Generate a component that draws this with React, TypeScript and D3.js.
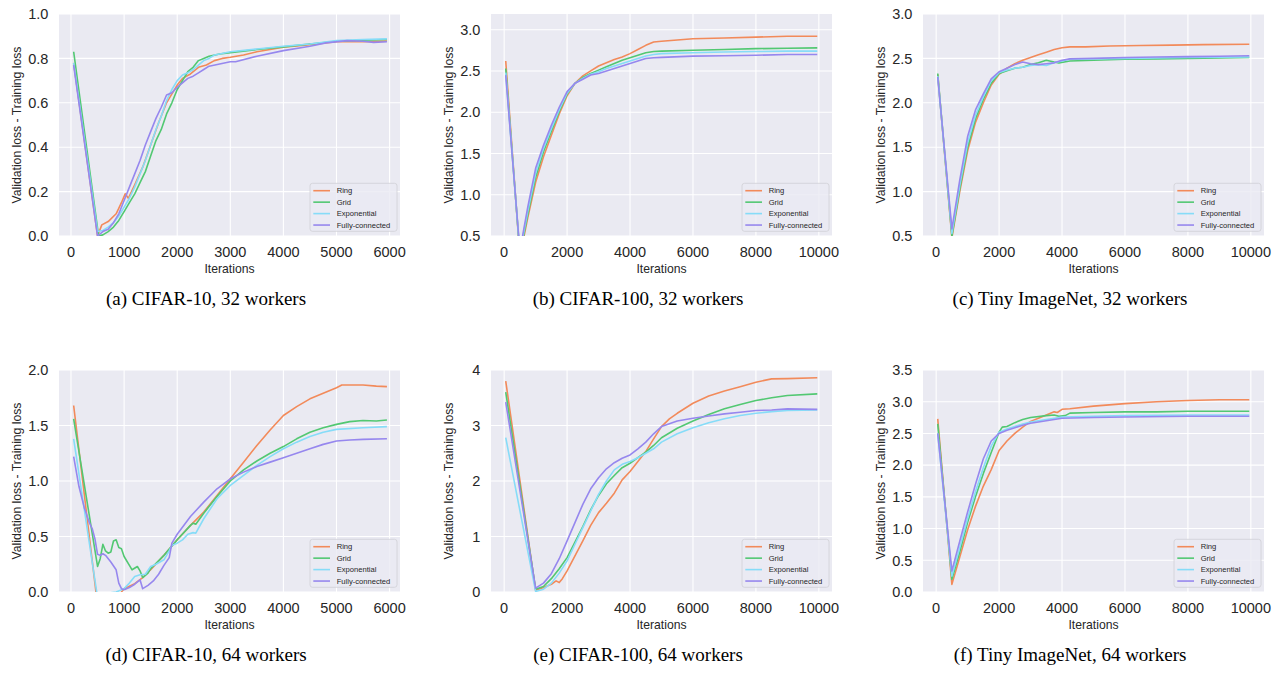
import React from "react"
import * as d3 from "d3"

type Pt = [number, number]

const SERIES = ["Ring", "Grid", "Exponential", "Fully-connected"]
const COLORS = ["#f28a5a", "#52c872", "#86dcf8", "#9687ee"]

const TICKS_6K = [0, 1000, 2000, 3000, 4000, 5000, 6000]
const TICKS_10K = [0, 2000, 4000, 6000, 8000, 10000]

// (a) CIFAR-10, 32 workers
const aRing: Pt[] = [[50, 0.78], [500, 0.0], [580, 0.05], [700, 0.065], [850, 0.1], [950, 0.15], [1020, 0.19], [1080, 0.17], [1200, 0.23], [1350, 0.31], [1500, 0.41], [1650, 0.51], [1800, 0.6], [1900, 0.64], [2000, 0.68], [2100, 0.71], [2250, 0.73], [2400, 0.76], [2550, 0.77], [2700, 0.79], [2850, 0.8], [3000, 0.805], [3250, 0.815], [3500, 0.83], [3750, 0.84], [4000, 0.85], [4500, 0.862], [5000, 0.875], [5500, 0.875], [5950, 0.878]]
const aGrid: Pt[] = [[50, 0.83], [520, 0.0], [600, 0.005], [700, 0.02], [800, 0.04], [900, 0.07], [1000, 0.11], [1100, 0.15], [1200, 0.19], [1300, 0.24], [1400, 0.29], [1500, 0.36], [1600, 0.43], [1700, 0.48], [1800, 0.55], [1900, 0.6], [2000, 0.66], [2100, 0.7], [2200, 0.74], [2300, 0.76], [2400, 0.79], [2500, 0.8], [2600, 0.81], [2800, 0.82], [3000, 0.826], [3500, 0.84], [4000, 0.852], [4500, 0.865], [5000, 0.877], [5500, 0.882], [5950, 0.885]]
const aExp: Pt[] = [[50, 0.78], [500, 0.02], [600, 0.025], [700, 0.04], [800, 0.06], [900, 0.09], [1000, 0.13], [1100, 0.17], [1200, 0.22], [1300, 0.28], [1400, 0.34], [1500, 0.41], [1600, 0.48], [1700, 0.54], [1800, 0.61], [1900, 0.66], [2000, 0.7], [2100, 0.725], [2200, 0.735], [2300, 0.75], [2400, 0.77], [2500, 0.79], [2600, 0.8], [2700, 0.815], [2800, 0.82], [3000, 0.83], [3500, 0.842], [4000, 0.855], [4500, 0.865], [5000, 0.88], [5500, 0.885], [5950, 0.888]]
const aFc: Pt[] = [[50, 0.77], [500, 0.0], [600, 0.02], [700, 0.03], [800, 0.06], [900, 0.1], [1000, 0.16], [1100, 0.22], [1200, 0.28], [1300, 0.34], [1400, 0.41], [1500, 0.47], [1600, 0.53], [1700, 0.58], [1800, 0.635], [1900, 0.645], [2000, 0.67], [2100, 0.69], [2200, 0.71], [2300, 0.72], [2400, 0.735], [2500, 0.75], [2600, 0.765], [2800, 0.775], [3000, 0.785], [3100, 0.785], [3500, 0.81], [4000, 0.835], [4500, 0.855], [4800, 0.87], [5200, 0.88], [5500, 0.877], [5700, 0.872], [5950, 0.875]]

// (b) CIFAR-100, 32 workers
const bRing: Pt[] = [[50, 2.62], [500, 0.25], [750, 0.72], [1000, 1.15], [1250, 1.46], [1500, 1.72], [1750, 1.98], [2000, 2.2], [2250, 2.35], [2500, 2.44], [2750, 2.5], [3000, 2.56], [3250, 2.6], [3500, 2.64], [3750, 2.67], [4000, 2.71], [4250, 2.76], [4500, 2.81], [4750, 2.85], [5000, 2.86], [5500, 2.875], [6000, 2.89], [7000, 2.9], [8000, 2.91], [9000, 2.92], [9950, 2.92]]
const bGrid: Pt[] = [[50, 2.53], [500, 0.28], [750, 0.76], [1000, 1.21], [1250, 1.52], [1500, 1.77], [1750, 2.01], [2000, 2.22], [2250, 2.35], [2500, 2.42], [2750, 2.47], [3000, 2.51], [3250, 2.55], [3500, 2.59], [3750, 2.63], [4000, 2.66], [4250, 2.69], [4500, 2.72], [4750, 2.735], [5000, 2.74], [6000, 2.75], [7000, 2.76], [8000, 2.77], [9000, 2.775], [9950, 2.78]]
const bExp: Pt[] = [[50, 2.48], [500, 0.3], [750, 0.8], [1000, 1.26], [1250, 1.56], [1500, 1.8], [1750, 2.03], [2000, 2.23], [2250, 2.35], [2500, 2.41], [2750, 2.46], [3000, 2.49], [3250, 2.53], [3500, 2.56], [3750, 2.59], [4000, 2.62], [4250, 2.65], [4500, 2.68], [4750, 2.7], [5000, 2.71], [6000, 2.72], [7000, 2.73], [8000, 2.735], [9000, 2.74], [9950, 2.74]]
const bFc: Pt[] = [[50, 2.45], [500, 0.32], [750, 0.85], [1000, 1.32], [1250, 1.6], [1500, 1.84], [1750, 2.06], [2000, 2.25], [2250, 2.35], [2500, 2.4], [2750, 2.45], [3000, 2.47], [3250, 2.5], [3500, 2.53], [3750, 2.56], [4000, 2.59], [4250, 2.62], [4500, 2.65], [4750, 2.66], [5000, 2.665], [6000, 2.68], [7000, 2.685], [8000, 2.69], [9000, 2.7], [9950, 2.7]]

// (c) Tiny ImageNet, 32 workers
const cRing: Pt[] = [[50, 2.32], [500, 0.48], [750, 1.0], [1000, 1.46], [1250, 1.78], [1500, 2.0], [1750, 2.2], [2000, 2.32], [2250, 2.39], [2500, 2.44], [2750, 2.48], [3000, 2.51], [3250, 2.54], [3500, 2.57], [3750, 2.6], [4000, 2.62], [4250, 2.63], [4750, 2.63], [5500, 2.64], [6500, 2.645], [7500, 2.65], [8500, 2.655], [9950, 2.66]]
const cGrid: Pt[] = [[50, 2.33], [500, 0.5], [750, 1.03], [1000, 1.5], [1250, 1.82], [1500, 2.04], [1750, 2.22], [2000, 2.33], [2250, 2.36], [2500, 2.39], [2750, 2.4], [3000, 2.43], [3250, 2.45], [3500, 2.48], [3750, 2.46], [3900, 2.45], [4250, 2.47], [5000, 2.48], [6000, 2.49], [7000, 2.495], [8000, 2.5], [9000, 2.505], [9950, 2.51]]
const cExp: Pt[] = [[50, 2.3], [500, 0.53], [750, 1.07], [1000, 1.55], [1250, 1.86], [1500, 2.07], [1750, 2.25], [2000, 2.34], [2250, 2.37], [2500, 2.39], [2750, 2.4], [3000, 2.42], [3250, 2.43], [3500, 2.42], [3750, 2.45], [4000, 2.47], [4250, 2.49], [5000, 2.495], [6000, 2.5], [7000, 2.505], [8000, 2.51], [9950, 2.515]]
const cFc: Pt[] = [[50, 2.29], [500, 0.58], [750, 1.13], [1000, 1.62], [1250, 1.92], [1500, 2.1], [1750, 2.27], [2000, 2.35], [2250, 2.39], [2500, 2.43], [2750, 2.46], [3000, 2.44], [3250, 2.43], [3500, 2.44], [3750, 2.45], [4000, 2.48], [4250, 2.495], [5000, 2.5], [6000, 2.51], [7000, 2.515], [8000, 2.52], [9000, 2.525], [9950, 2.53]]

// (d) CIFAR-10, 64 workers
const dRing: Pt[] = [[50, 1.68], [500, -0.12], [750, -0.1], [950, 0.0], [1000, 0.03], [1200, 0.075], [1350, 0.13], [1500, 0.2], [1750, 0.33], [2000, 0.47], [2250, 0.6], [2500, 0.72], [2750, 0.87], [3000, 1.02], [3250, 1.17], [3500, 1.32], [3750, 1.46], [4000, 1.59], [4250, 1.67], [4500, 1.74], [4750, 1.79], [5000, 1.84], [5100, 1.865], [5500, 1.865], [5750, 1.855], [5950, 1.85]]
const dGrid: Pt[] = [[50, 1.56], [500, 0.23], [550, 0.3], [600, 0.43], [650, 0.37], [700, 0.35], [750, 0.36], [800, 0.46], [850, 0.47], [900, 0.4], [950, 0.39], [1000, 0.32], [1100, 0.24], [1150, 0.2], [1250, 0.23], [1300, 0.19], [1350, 0.13], [1450, 0.17], [1500, 0.21], [1750, 0.33], [2000, 0.47], [2250, 0.6], [2300, 0.62], [2350, 0.61], [2500, 0.71], [2750, 0.86], [3000, 1.0], [3250, 1.1], [3500, 1.18], [3750, 1.25], [4000, 1.31], [4250, 1.38], [4500, 1.44], [4750, 1.48], [5000, 1.51], [5250, 1.535], [5500, 1.545], [5750, 1.54], [5950, 1.55]]
const dExp: Pt[] = [[50, 1.38], [500, -0.05], [700, -0.01], [850, 0.0], [1000, 0.03], [1100, 0.08], [1200, 0.14], [1300, 0.155], [1400, 0.16], [1500, 0.23], [1600, 0.25], [1750, 0.29], [1850, 0.37], [1900, 0.42], [2000, 0.44], [2100, 0.47], [2200, 0.52], [2300, 0.535], [2350, 0.53], [2500, 0.66], [2750, 0.84], [3000, 0.96], [3250, 1.05], [3500, 1.14], [3750, 1.22], [4000, 1.29], [4250, 1.35], [4500, 1.4], [4750, 1.44], [5000, 1.465], [5500, 1.48], [5950, 1.49]]
const dFc: Pt[] = [[50, 1.22], [150, 0.95], [250, 0.76], [350, 0.62], [400, 0.57], [450, 0.48], [500, 0.34], [550, 0.33], [600, 0.345], [650, 0.33], [750, 0.27], [850, 0.2], [900, 0.08], [950, 0.03], [1000, 0.02], [1100, 0.04], [1200, 0.07], [1300, 0.11], [1350, 0.03], [1450, 0.06], [1550, 0.1], [1650, 0.16], [1750, 0.24], [1850, 0.31], [1900, 0.44], [2000, 0.52], [2250, 0.68], [2500, 0.81], [2750, 0.93], [3000, 1.02], [3250, 1.08], [3500, 1.13], [3750, 1.17], [4000, 1.21], [4250, 1.25], [4500, 1.29], [4750, 1.33], [5000, 1.36], [5250, 1.37], [5500, 1.375], [5950, 1.38]]

// (e) CIFAR-100, 64 workers
const eRing: Pt[] = [[50, 3.8], [1000, 0.03], [1250, 0.08], [1500, 0.14], [1650, 0.2], [1750, 0.17], [1850, 0.24], [2000, 0.38], [2250, 0.65], [2500, 0.92], [2750, 1.2], [3000, 1.43], [3250, 1.6], [3500, 1.78], [3750, 2.02], [4000, 2.17], [4250, 2.35], [4500, 2.53], [4750, 2.76], [5000, 2.98], [5250, 3.12], [5500, 3.22], [6000, 3.4], [6500, 3.53], [7000, 3.62], [7500, 3.7], [8000, 3.78], [8500, 3.84], [9000, 3.845], [9950, 3.86]]
const eGrid: Pt[] = [[50, 3.6], [1000, 0.05], [1250, 0.1], [1500, 0.24], [1750, 0.42], [2000, 0.62], [2250, 0.9], [2500, 1.18], [2750, 1.48], [3000, 1.74], [3250, 1.95], [3500, 2.1], [3750, 2.24], [4000, 2.32], [4250, 2.42], [4500, 2.52], [4750, 2.64], [5000, 2.78], [5500, 2.95], [6000, 3.08], [6500, 3.2], [7000, 3.3], [7500, 3.38], [8000, 3.45], [8500, 3.5], [9000, 3.54], [9950, 3.57]]
const eExp: Pt[] = [[50, 2.78], [1000, 0.01], [1250, 0.05], [1500, 0.16], [1750, 0.34], [2000, 0.56], [2250, 0.86], [2500, 1.16], [2750, 1.46], [3000, 1.76], [3250, 2.0], [3500, 2.2], [3750, 2.3], [4000, 2.35], [4250, 2.42], [4500, 2.5], [4750, 2.58], [5000, 2.7], [5500, 2.85], [6000, 2.96], [6500, 3.05], [7000, 3.12], [7500, 3.18], [8000, 3.22], [8500, 3.25], [9000, 3.27], [9950, 3.28]]
const eFc: Pt[] = [[50, 3.42], [1000, 0.07], [1250, 0.16], [1500, 0.33], [1750, 0.6], [2000, 0.92], [2250, 1.25], [2500, 1.58], [2750, 1.86], [3000, 2.06], [3250, 2.22], [3500, 2.33], [3750, 2.41], [4000, 2.47], [4250, 2.58], [4500, 2.7], [4750, 2.85], [5000, 2.98], [5500, 3.08], [6000, 3.13], [6500, 3.17], [7000, 3.21], [7500, 3.24], [8000, 3.27], [8500, 3.28], [9000, 3.3], [9950, 3.29]]

// (f) Tiny ImageNet, 64 workers
const fRing: Pt[] = [[50, 2.73], [500, 0.12], [750, 0.55], [1000, 0.98], [1250, 1.35], [1500, 1.67], [1750, 1.93], [2000, 2.23], [2250, 2.38], [2500, 2.5], [2750, 2.6], [3000, 2.69], [3250, 2.74], [3500, 2.79], [3750, 2.84], [3850, 2.83], [4000, 2.88], [4250, 2.89], [5000, 2.93], [6000, 2.97], [7000, 3.0], [8000, 3.02], [9000, 3.03], [9950, 3.03]]
const fGrid: Pt[] = [[50, 2.65], [500, 0.2], [750, 0.63], [1000, 1.1], [1250, 1.5], [1500, 1.87], [1750, 2.2], [2000, 2.52], [2100, 2.6], [2250, 2.61], [2500, 2.67], [2750, 2.72], [3000, 2.75], [3500, 2.78], [3750, 2.79], [3900, 2.77], [4100, 2.78], [4250, 2.82], [5000, 2.83], [6000, 2.84], [7000, 2.84], [8000, 2.85], [9950, 2.85]]
const fExp: Pt[] = [[50, 2.5], [500, 0.25], [750, 0.7], [1000, 1.16], [1250, 1.58], [1500, 1.96], [1750, 2.3], [2000, 2.52], [2250, 2.57], [2500, 2.61], [2750, 2.65], [3000, 2.68], [3500, 2.72], [4000, 2.76], [5000, 2.77], [6000, 2.78], [8000, 2.79], [9950, 2.79]]
const fFc: Pt[] = [[50, 2.5], [500, 0.33], [750, 0.8], [1000, 1.26], [1250, 1.7], [1500, 2.1], [1750, 2.38], [2000, 2.5], [2250, 2.55], [2500, 2.59], [2750, 2.63], [3000, 2.66], [3500, 2.7], [4000, 2.74], [5000, 2.75], [6000, 2.76], [8000, 2.77], [9950, 2.77]]

const PANELS = [
    { caption: "(a) CIFAR-10, 32 workers", lines: [aRing, aGrid, aExp, aFc], xDomain: [-226, 6196], xTicks: TICKS_6K, yDomain: [0, 1], yTicks: [0, 0.2, 0.4, 0.6, 0.8, 1.0], yFmt: ".1f" },
    { caption: "(b) CIFAR-100, 32 workers", lines: [bRing, bGrid, bExp, bFc], xDomain: [-418, 10418], xTicks: TICKS_10K, yDomain: [0.5, 3.19], yTicks: [0.5, 1.0, 1.5, 2.0, 2.5, 3.0], yFmt: ".1f" },
    { caption: "(c) Tiny ImageNet, 32 workers", lines: [cRing, cGrid, cExp, cFc], xDomain: [-418, 10418], xTicks: TICKS_10K, yDomain: [0.5, 3.0], yTicks: [0.5, 1.0, 1.5, 2.0, 2.5, 3.0], yFmt: ".1f" },
    { caption: "(d) CIFAR-10, 64 workers", lines: [dRing, dGrid, dExp, dFc], xDomain: [-226, 6196], xTicks: TICKS_6K, yDomain: [0, 2], yTicks: [0, 0.5, 1.0, 1.5, 2.0], yFmt: ".1f" },
    { caption: "(e) CIFAR-100, 64 workers", lines: [eRing, eGrid, eExp, eFc], xDomain: [-418, 10418], xTicks: TICKS_10K, yDomain: [0, 4], yTicks: [0, 1, 2, 3, 4], yFmt: "d" },
    { caption: "(f) Tiny ImageNet, 64 workers", lines: [fRing, fGrid, fExp, fFc], xDomain: [-418, 10418], xTicks: TICKS_10K, yDomain: [0, 3.5], yTicks: [0, 0.5, 1.0, 1.5, 2.0, 2.5, 3.0, 3.5], yFmt: ".1f" },
]

const WIDTH = 1285
const HEIGHT = 674
const PW = 341
const PH = 222
const LEFTS = [59, 491, 923]
const TOPS = [14, 370]
const SANS = "'Liberation Sans', Arial, sans-serif"
const INK = "#262626"

const Panel: React.FC<{ p: (typeof PANELS)[number]; idx: number }> = ({ p, idx }) => {
    const left = LEFTS[idx % 3]
    const top = TOPS[Math.floor(idx / 3)]
    const x = d3.scaleLinear().domain(p.xDomain).range([0, PW])
    const y = d3.scaleLinear().domain(p.yDomain).range([PH, 0])
    const line = d3.line<Pt>().x(d => x(d[0])).y(d => y(d[1]))
    const fmt = d3.format(p.yFmt)
    const clipId = `clip-${idx}`

    // legend box in lower right
    const lgW = 87
    const lgH = 48
    const lgX = PW - 3 - lgW
    const lgY = PH - 4.7 - lgH

    return (
        <g transform={`translate(${left},${top})`}>
            <defs>
                <clipPath id={clipId}>
                    <rect width={PW} height={PH} />
                </clipPath>
            </defs>
            <rect width={PW} height={PH} fill="#eaeaf2" />
            {p.xTicks.map(t => (
                <line key={"gx" + t} x1={x(t)} x2={x(t)} y1={0} y2={PH} stroke="#fff" strokeWidth={1.1} />
            ))}
            {p.yTicks.map(t => (
                <line key={"gy" + t} x1={0} x2={PW} y1={y(t)} y2={y(t)} stroke="#fff" strokeWidth={1.1} />
            ))}
            <g clipPath={`url(#${clipId})`}>
                {p.lines.map((pts, i) => (
                    <path key={i} d={line(pts) ?? ""} fill="none" stroke={COLORS[i]} strokeWidth={1.6} strokeLinejoin="round" />
                ))}
            </g>
            {p.xTicks.map(t => (
                <text key={"tx" + t} x={x(t)} y={PH + 20.5} textAnchor="middle" fontSize={14.5} fill={INK} fontFamily={SANS}>
                    {t}
                </text>
            ))}
            {p.yTicks.map(t => (
                <text key={"ty" + t} x={-10.7} y={y(t)} dy="0.36em" textAnchor="end" fontSize={14.5} fill={INK} fontFamily={SANS}>
                    {fmt(t)}
                </text>
            ))}
            <text x={PW / 2} y={PH + 37} textAnchor="middle" fontSize={12.2} fill={INK} fontFamily={SANS}>
                Iterations
            </text>
            <text transform={`translate(-38.5,${PH / 2}) rotate(-90)`} textAnchor="middle" fontSize={12.2} fill={INK} fontFamily={SANS}>
                Validation loss - Training loss
            </text>
            <g transform={`translate(${lgX},${lgY})`}>
                <rect width={lgW} height={lgH} rx={2.5} fill="#eaeaf2" fillOpacity={0.8} stroke="#d0d0d6" strokeWidth={0.8} />
                {SERIES.map((s, i) => (
                    <g key={s} transform={`translate(0,${7.4 + i * 11.45})`}>
                        <line x1={3.3} x2={20} stroke={COLORS[i]} strokeWidth={1.6} />
                        <text x={26.7} dy="0.35em" fontSize={7.6} fill={INK} fontFamily={SANS}>
                            {s}
                        </text>
                    </g>
                ))}
            </g>
            <text x={147} y={291} textAnchor="middle" fontSize={19} fill="#000" fontFamily="'Liberation Serif', 'Times New Roman', serif">
                {p.caption}
            </text>
        </g>
    )
}

export default function App() {
    return (
        <svg width={WIDTH} height={HEIGHT} style={{ position: "absolute", left: 0, top: 0, background: "#fff" }}>
            {PANELS.map((p, i) => (
                <Panel key={p.caption} p={p} idx={i} />
            ))}
        </svg>
    )
}
